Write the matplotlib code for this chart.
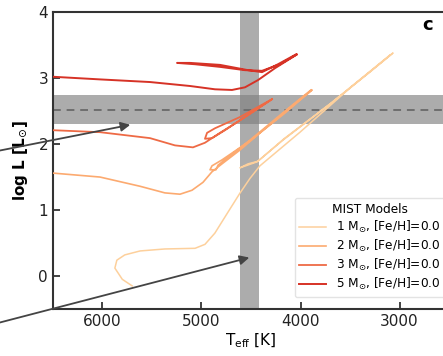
import numpy as np
import matplotlib.pyplot as plt

# MIST evolutionary tracks, [Fe/H]=0.0 (Teff in K, log L in Lsun)
teff_1 = [5700, 5800, 5875, 5855, 5775, 5620, 5370, 5065, 4965, 4865, 4740, 4610,
          4510, 4410, 4005, 3500, 3066,
          3300, 3700, 4177, 4440, 4611, 4530, 4429, 4167, 3692, 3096]
logl_1 = [-0.15, -0.05, 0.12, 0.24, 0.32, 0.38, 0.41, 0.42, 0.48, 0.65, 0.95, 1.26,
          1.48, 1.67, 2.18, 2.85, 3.38,
          3.09, 2.61, 2.06, 1.73, 1.64, 1.70, 1.74, 2.08, 2.62, 3.35]

teff_2 = [6700, 6500, 6025, 5620, 5370, 5217, 5096, 4985, 4894, 4793, 4611, 4409,
          4106, 3884,
          4157, 4510, 4793, 4894, 4914, 4854, 4833, 4510, 4157, 3894]
logl_2 = [1.58, 1.56, 1.50, 1.36, 1.26, 1.24, 1.30, 1.42, 1.58, 1.70, 1.91, 2.17,
          2.55, 2.82,
          2.47, 2.05, 1.76, 1.67, 1.61, 1.61, 1.68, 2.06, 2.50, 2.82]

teff_3 = [6700, 6500, 6025, 5520, 5268, 5086, 4965, 4813, 4611, 4288,
          4611, 4863, 4944, 4965, 4894, 4763, 4561, 4288]
logl_3 = [2.22, 2.21, 2.18, 2.09, 1.98, 1.95, 2.02, 2.17, 2.36, 2.68,
          2.41, 2.24, 2.17, 2.08, 2.09, 2.21, 2.41, 2.68]

teff_5 = [6700, 6500, 6025, 5520, 5116, 4864, 4692, 4561, 4429, 4258, 4035,
          4207, 4389, 4561, 4813, 5066, 5247, 5116, 4813, 4530, 4389, 4227, 4045]
logl_5 = [3.03, 3.02, 2.98, 2.94, 2.88, 2.83, 2.82, 2.86, 2.97, 3.15, 3.36,
          3.21, 3.11, 3.12, 3.17, 3.21, 3.23, 3.23, 3.20, 3.12, 3.09, 3.21, 3.36]

tracks = [(teff_1, logl_1, '1', '#fdd09c', 1.1),
          (teff_2, logl_2, '2', '#fcaa70', 1.2),
          (teff_3, logl_3, '3', '#ee6a45', 1.3),
          (teff_5, logl_5, '5', '#d63226', 1.4)]

# star: Teff range and log L (central value and range)
teff_band = (4420, 4610)
logl_mid = 2.52
logl_band = (2.30, 2.74)

fig = plt.figure(figsize=(4.43, 3.56), dpi=100)
ax = fig.add_axes([0.1196, 0.132, 0.894, 0.834])

for t, l, m, c, lw in tracks:
    ax.plot(t, l, color=c, lw=lw, zorder=3,
            label=r'%s M$_{\odot}$, [Fe/H]=0.0' % m)

ax.axvspan(*teff_band, color='#808080', alpha=0.65, lw=0, zorder=2)
ax.axhspan(*logl_band, color='#808080', alpha=0.65, lw=0, zorder=2)
ax.axhline(logl_mid, color='#6e6e6e', lw=1.4, ls=(0, (4, 3)), zorder=2.5)

ax.set_xlim(6500, 2500)
ax.set_ylim(-0.5, 4)
ax.set_xticks([6000, 5000, 4000, 3000])
ax.set_yticks([0, 1, 2, 3, 4])
ax.tick_params(direction='in', length=5, width=1.2, labelsize=11, colors='#222222')
for s in ax.spines.values():
    s.set_linewidth(1.5)
    s.set_color('#333333')

ax.set_xlabel(r'T$_{\rm eff}$ [K]', fontsize=11, labelpad=2)
ax.set_ylabel(r'log L [L$_{\odot}$]', fontsize=11, fontweight='bold', labelpad=6)
ax.text(0.947, 0.955, 'c', transform=ax.transAxes, fontsize=13,
        fontweight='bold', ha='center', va='center')

leg = ax.legend(title='MIST Models', loc='lower right', bbox_to_anchor=(0.99, 0.04),
                borderaxespad=0, fontsize=8.7, title_fontsize=8.7, handlelength=2.2,
                labelspacing=0.25, frameon=True, fancybox=True)
leg.get_frame().set_edgecolor('#dddddd')
leg.set_zorder(5)

# pointers coming in from the neighbouring panel
arrow = dict(arrowstyle='-|>', color='#444444', lw=1.3, mutation_scale=14)
ax.annotate('', xy=(5692, 2.30), xycoords='data',
            xytext=(-0.05, 0.565), textcoords='figure fraction',
            arrowprops=arrow, annotation_clip=False, zorder=6)
ax.annotate('', xy=(4490, 0.29), xycoords='data',
            xytext=(-0.05, 0.078), textcoords='figure fraction',
            arrowprops=arrow, annotation_clip=False, zorder=6)

fig.savefig('out.png', dpi=100)
